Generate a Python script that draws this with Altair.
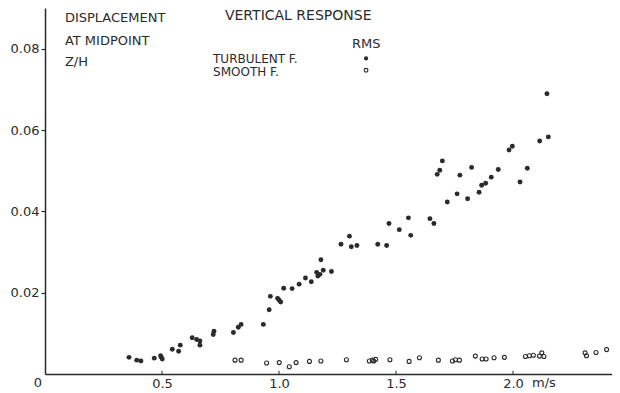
import altair as alt
import pandas as pd

# Turbulent flow (filled dots): velocity m/s, RMS Z/H
turb_x = [0.359, 0.392, 0.410, 0.467, 0.494, 0.501, 0.497, 0.544, 0.571, 0.578,
          0.629, 0.648, 0.662, 0.662, 0.719, 0.722, 0.805, 0.826, 0.838, 0.933,
          0.958, 0.963, 0.994, 1.000, 1.007, 1.020, 1.056, 1.086, 1.113, 1.138,
          1.161, 1.166, 1.175, 1.179, 1.189, 1.224, 1.265, 1.301, 1.309, 1.333,
          1.422, 1.460, 1.470, 1.514, 1.553, 1.563, 1.645, 1.662, 1.676, 1.687,
          1.698, 1.719, 1.761, 1.773, 1.806, 1.823, 1.855, 1.866, 1.883, 1.907,
          1.937, 1.983, 1.997, 2.030, 2.061, 2.114, 2.145, 2.151]
turb_y = [0.0041, 0.0034, 0.0032, 0.0039, 0.0045, 0.0037, 0.0041, 0.0061, 0.0056, 0.0071,
          0.0089, 0.0085, 0.0081, 0.0071, 0.0097, 0.0105, 0.0102, 0.0115, 0.0122, 0.0122,
          0.0158, 0.0191, 0.0186, 0.0182, 0.0177, 0.0211, 0.0210, 0.0221, 0.0236, 0.0227,
          0.0250, 0.0241, 0.0245, 0.0281, 0.0255, 0.0252, 0.0319, 0.0339, 0.0313, 0.0316,
          0.0319, 0.0316, 0.0370, 0.0355, 0.0384, 0.0341, 0.0382, 0.0370, 0.0491, 0.0501,
          0.0524, 0.0423, 0.0443, 0.0489, 0.0431, 0.0508, 0.0447, 0.0464, 0.0469, 0.0484,
          0.0503, 0.0551, 0.0560, 0.0472, 0.0506, 0.0573, 0.0689, 0.0583]

# Smooth flow (open circles)
smooth_x = [0.812, 0.838, 0.947, 1.001, 1.044, 1.073, 1.130, 1.179, 1.288, 1.386,
            1.399, 1.413, 1.405, 1.474, 1.556, 1.600, 1.681, 1.741, 1.754, 1.771,
            1.839, 1.868, 1.885, 1.919, 1.963, 2.053, 2.070, 2.087, 2.113, 2.123,
            2.132, 2.308, 2.314, 2.355, 2.400]
smooth_y = [0.0034, 0.0034, 0.0027, 0.0028, 0.0018, 0.0028, 0.0031, 0.0032, 0.0035, 0.0032,
            0.0034, 0.0036, 0.0032, 0.0035, 0.0031, 0.0040, 0.0034, 0.0032, 0.0035, 0.0034,
            0.0044, 0.0037, 0.0037, 0.0040, 0.0041, 0.0043, 0.0045, 0.0046, 0.0044, 0.0052,
            0.0043, 0.0052, 0.0045, 0.0053, 0.0060]

x_ticks = [0.5, 1.0, 1.5, 2.0]
y_ticks = [0.02, 0.04, 0.06, 0.08]

# Annotation texts (positions in data units)
ann_text = ["DISPLACEMENT", "AT MIDPOINT", "Z/H", "VERTICAL  RESPONSE", "RMS",
            "TURBULENT  F.", "SMOOTH F."]
ann_x = [0.085, 0.085, 0.085, 0.769, 1.312, 0.718, 0.718]
ann_y = [0.0875, 0.0820, 0.0766, 0.0880, 0.0811, 0.0775, 0.0743]
ann_size = [13, 13, 13, 14, 13, 12, 12]

legend_x = [1.372, 1.372]
legend_y = [0.0776, 0.0747]
legend_kind = ["filled", "open"]

FONT = "DejaVu Sans"
INK = "#2b2b2b"

xscale = alt.Scale(domain=[0, 2.423], nice=False, zero=True)
yscale = alt.Scale(domain=[0, 0.09], nice=False, zero=True)

x_axis = alt.Axis(values=x_ticks, format=".1f", tickSize=0, labelPadding=3,
                  domainColor=INK, domainWidth=1.5, labelFont=FONT, labelFontSize=13,
                  labelColor=INK, grid=False, title=None)
y_axis = alt.Axis(values=y_ticks, format=".2f", tickSize=4, tickColor=INK, tickWidth=1.2,
                  labelPadding=2, domainColor=INK, domainWidth=1.5, labelFont=FONT,
                  labelFontSize=13, labelColor=INK, grid=False, title=None)


def X():
    return alt.X("x:Q", scale=xscale, axis=x_axis)


def Y():
    return alt.Y("y:Q", scale=yscale, axis=y_axis)


turb = pd.DataFrame({"x": turb_x, "y": turb_y})
smooth = pd.DataFrame({"x": smooth_x, "y": smooth_y})
ann = pd.DataFrame({"x": ann_x, "y": ann_y, "t": ann_text, "s": ann_size})
leg = pd.DataFrame({"x": legend_x, "y": legend_y, "k": legend_kind})
ticks = pd.DataFrame({"x": x_ticks, "y": [0.0] * 4, "y2": [0.0008] * 4})
zero_lab = pd.DataFrame({"x": [0.0], "y": [0.0], "t": ["0"]})
unit_lab = pd.DataFrame({"x": [2.0], "y": [0.0], "t": ["m/s"]})

pts = alt.Chart(turb).mark_circle(size=24, color=INK, opacity=1).encode(x=X(), y=Y())

opn = alt.Chart(smooth).mark_point(shape="circle", size=16, stroke=INK, strokeWidth=1.1,
                                   filled=False, opacity=1).encode(x=X(), y=Y())

tick_layer = alt.Chart(ticks).mark_rule(color=INK, strokeWidth=1).encode(
    x=X(), y=Y(), y2="y2:Q")

text_layer = alt.Chart(ann).mark_text(align="left", baseline="middle", font=FONT,
                                      color=INK).encode(
    x=X(), y=Y(), text="t:N",
    size=alt.Size("s:Q", scale=None, legend=None),
)

zero_layer = alt.Chart(zero_lab).mark_text(align="center", baseline="top", font=FONT,
                                           fontSize=13, color=INK, dy=3, dx=-7).encode(
    x=X(), y=Y(), text="t:N")

unit_layer = alt.Chart(unit_lab).mark_text(align="left", baseline="top", font=FONT,
                                           fontSize=13, color=INK, dy=3, dx=19).encode(
    x=X(), y=Y(), text="t:N")

leg_f = alt.Chart(leg[leg.k == "filled"]).mark_circle(size=18, color=INK, opacity=1).encode(
    x=X(), y=Y())
leg_o = alt.Chart(leg[leg.k == "open"]).mark_point(shape="circle", size=14, stroke=INK,
                                                  strokeWidth=1.1, filled=False,
                                                  opacity=1).encode(x=X(), y=Y())

chart = alt.layer(pts, opn, tick_layer, text_layer, zero_layer, unit_layer,
                  leg_f, leg_o).properties(
    width=567, height=366,
    padding={"left": 37, "top": 0, "right": 0, "bottom": 16},
    autosize=alt.AutoSizeParams(type="none"),
    background="white",
).configure_view(stroke=None)

chart.save("out.html", embed_options={"renderer": "svg", "actions": False})
